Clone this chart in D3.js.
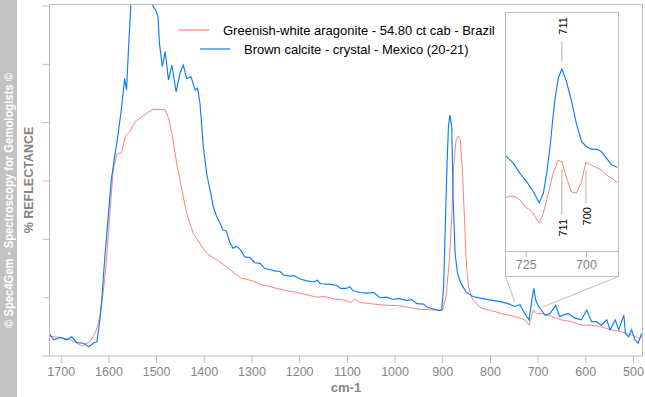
<!DOCTYPE html>
<html>
<head>
<meta charset="utf-8">
<script src="https://cdn.jsdelivr.net/npm/d3@7"></script>
<style>
  body { margin: 0; background: white; }
  text { font-family: "Liberation Sans", Arial, sans-serif; }
</style>
</head>
<body>
<div id="canvas"></div>
<script>
"use strict"

/* spectra: wavenumber (cm-1) and reflectance (arbitrary units) */
let aragoniteCm = [1724, 1701, 1680, 1666, 1656, 1645, 1639, 1632, 1625, 1618, 1611, 1604, 1597, 1590, 1583, 1572, 1565, 1555, 1544, 1534, 1520, 1506, 1492, 1481, 1474, 1467, 1457, 1446, 1436, 1422, 1408, 1394, 1373, 1352, 1331, 1321, 1310, 1296, 1282, 1265, 1247, 1226, 1205, 1184, 1163, 1146, 1128, 1107, 1092, 1083, 1073, 1052, 1031, 1010, 989, 968, 945, 910, 899, 892, 885, 880, 876, 871, 866, 862, 857, 853, 850, 845, 836, 818, 797, 776, 748, 727, 718, 709, 702, 692, 671, 650, 629, 608, 587, 566, 545, 524, 503, 485, 478];
let aragoniteR = [3.3, 3.1, 2.7, 2.1, 1.6, 2.1, 2.4, 3.2, 4.4, 6.7, 10.7, 16.4, 24.4, 31.8, 34.4, 34.9, 37.5, 38.4, 40.1, 40.7, 41.5, 42.2, 42.2, 42.1, 40.7, 38.1, 33.0, 28.4, 24.4, 20.9, 19.2, 17.5, 16.4, 15.2, 13.8, 13.2, 13.1, 12.7, 12.2, 11.9, 11.5, 11.1, 10.8, 10.4, 10.0, 10.1, 9.7, 9.5, 9.1, 9.7, 9.1, 8.9, 8.7, 8.6, 8.5, 8.2, 7.9, 7.8, 7.9, 10.1, 16.4, 23.8, 32.4, 36.9, 37.6, 36.9, 30.7, 22.7, 16.4, 11.8, 9.5, 8.1, 7.7, 7.2, 6.7, 6.1, 5.2, 7.8, 7.2, 7.2, 6.7, 6.1, 5.8, 5.2, 5.2, 4.9, 4.4, 4.1, 3.5, 2.9, 3.8];

let calciteCm = [1724, 1715, 1701, 1687, 1677, 1666, 1652, 1641, 1632, 1624, 1618, 1614, 1608, 1601, 1594, 1587, 1580, 1573, 1566, 1562, 1558, 1553, 1540, 1525, 1515, 1506, 1501, 1496, 1493, 1487, 1481, 1474, 1467, 1458, 1450, 1443, 1436, 1427, 1418, 1413, 1408, 1401, 1394, 1387, 1380, 1373, 1366, 1360, 1353, 1346, 1339, 1331, 1323, 1314, 1303, 1293, 1282, 1272, 1261, 1251, 1240, 1233, 1219, 1211, 1198, 1184, 1170, 1162, 1155, 1135, 1121, 1113, 1101, 1094, 1087, 1073, 1059, 1043, 1031, 1017, 1003, 992, 974, 964, 953, 939, 932, 924, 906, 901, 897, 894, 890, 887, 884, 880, 877, 873, 868, 861, 850, 836, 818, 797, 776, 762, 748, 737, 727, 718, 712, 708, 704, 698, 684, 674, 662, 654, 636, 622, 608, 597, 587, 577, 566, 555, 548, 537, 530, 519, 516, 509, 503, 496, 489, 482];
let calciteR = [3.8, 2.7, 3.1, 2.7, 3.2, 2.2, 2.1, 1.5, 2.1, 2.4, 6.1, 9.5, 16.4, 23.2, 30.1, 34.1, 37.8, 42.1, 47.5, 45.5, 52.4, 60.1, 64.0, 66.0, 63.0, 59.8, 59.2, 58.1, 53.5, 49.5, 52.1, 47.2, 49.8, 45.2, 48.4, 49.8, 47.5, 47.8, 45.5, 45.8, 43.2, 35.8, 31.2, 28.4, 25.5, 23.8, 22.7, 21.5, 21.4, 19.5, 18.4, 18.7, 18.1, 16.9, 16.8, 15.9, 15.8, 14.9, 14.7, 14.5, 14.4, 13.8, 13.6, 13.7, 13.1, 12.8, 12.6, 12.9, 12.3, 12.2, 12.0, 11.5, 11.5, 11.8, 11.1, 10.8, 10.7, 10.8, 9.9, 10.0, 9.6, 9.8, 9.4, 9.6, 8.9, 8.8, 8.3, 8.1, 7.7, 7.8, 11.8, 20.9, 32.4, 39.2, 41.2, 39.2, 26.7, 17.5, 14.1, 12.4, 10.9, 10.1, 9.8, 9.5, 9.2, 8.9, 8.4, 8.7, 7.2, 6.1, 9.5, 11.5, 9.5, 8.4, 6.9, 7.2, 8.6, 6.7, 7.2, 6.4, 6.1, 7.8, 5.8, 5.8, 5.2, 6.1, 4.4, 6.1, 4.4, 6.9, 3.8, 3.2, 4.4, 2.7, 2.1, 3.8];

/* inset (zoom on the 711 band) */
let insetCm = [733.5, 730.1, 727.4, 724.6, 721.8, 719.4, 717.7, 716.3, 714.9, 713.8, 712.9, 711.5, 710.0, 708.2, 706.1, 704.0, 701.8, 699.7, 697.6, 695.6, 693.5, 691.4, 689.3, 687.0];
let insetCalciteR = [40.1, 36.7, 32.5, 29.0, 24.8, 20.2, 24.2, 32.5, 43.7, 54.9, 63.3, 72.4, 76.2, 71.4, 63.3, 53.5, 45.8, 43.7, 42.6, 42.7, 41.6, 38.8, 36.0, 35.1];
let insetAragCm = [733.5, 731.5, 729.4, 727.4, 725.3, 722.5, 721.1, 719.4, 717.7, 715.6, 713.6, 711.5, 710.0, 708.2, 706.1, 704.0, 701.8, 700.1, 697.6, 695.6, 693.5, 691.4, 689.3, 687.0];
let insetAragR = [22.3, 23.0, 22.7, 21.4, 18.6, 16.5, 14.4, 11.6, 15.8, 24.2, 32.6, 38.1, 37.4, 31.1, 24.8, 24.2, 29.0, 37.2, 36.0, 34.9, 33.9, 31.8, 30.5, 28.6];

/* labels */
let xTicks = [1700, 1600, 1500, 1400, 1300, 1200, 1100, 1000, 900, 800, 700, 600, 500];
let yTicks = [0, 10, 20, 30, 40, 50, 60];
let insetTicks = [725, 700];
let legendNames = ["Greenish-white aragonite - 54.80 ct cab - Brazil", "Brown calcite - crystal - Mexico (20-21)"];
let colors = ["#ff7f7f", "#0a7cff"];
/* peak labels: leader line from "top" to "bottom" (inset units) */
let peakLabels = [
  { cm: 710, top: 87.7, bottom: 79.3, text: "711", above: true },
  { cm: 710, top: 34.4, bottom: 15.1, text: "711", above: false },
  { cm: 700, top: 33.9, bottom: 20.1, text: "700", above: false }
];
/* where the inset comes from on the main plot */
let zoomFrom = [{ cm: 748, r: 9.2 }, { cm: 690, r: 8.3 }];

let drawing = d3.select("#canvas")
  .append("svg")
  .attr("width", 645)
  .attr("height", 397);

let frameColor = "#bcbcbc";
let textGray = "#858585";

/* scales */
let x = d3.scaleLinear().domain([1724, 480]).range([49.3, 642.5]);
let y = d3.scaleLinear().domain([0, 60]).range([355.5, 5.5]);
let xi = d3.scaleLinear().domain([733.4, 686.9]).range([505.5, 617.5]);
let yi = d3.scaleLinear().domain([0, 100]).range([251, 12.3]);

/* grey side band with copyright */
drawing.append("rect")
  .attr("x", 0).attr("y", 0)
  .attr("width", 17).attr("height", 397)
  .attr("fill", "#c2c2c2");

drawing.append("text")
  .attr("transform", "translate(8.5,200.5) rotate(-90)")
  .attr("text-anchor", "middle")
  .attr("dominant-baseline", "central")
  .attr("fill", "white")
  .attr("font-weight", "bold")
  .attr("font-size", 12)
  .attr("textLength", 255)
  .attr("lengthAdjust", "spacingAndGlyphs")
  .text("© Spec4Gem - Spectroscopy for Gemologists ©");

/* y axis title */
drawing.append("text")
  .attr("transform", "translate(29,180) rotate(-90)")
  .attr("text-anchor", "middle")
  .attr("dominant-baseline", "central")
  .attr("fill", textGray)
  .attr("font-weight", "bold")
  .attr("font-size", 12.5)
  .text("% REFLECTANCE");

/* clip for main plot */
drawing.append("clipPath")
  .attr("id", "plotClip")
  .append("rect")
  .attr("x", 49.3).attr("y", 5)
  .attr("width", 593.2).attr("height", 351);

/* main curves */
let line = d3.line()
  .x(d => x(d[0]))
  .y(d => y(d[1]));

drawing.append("path")
  .datum(d3.zip(aragoniteCm, aragoniteR))
  .attr("d", line)
  .attr("fill", "none")
  .attr("stroke", colors[0])
  .attr("stroke-width", 1)
  .attr("clip-path", "url(#plotClip)");

drawing.append("path")
  .datum(d3.zip(calciteCm, calciteR))
  .attr("d", line)
  .attr("fill", "none")
  .attr("stroke", colors[1])
  .attr("stroke-width", 1.15)
  .attr("clip-path", "url(#plotClip)");

/* plot frame */
drawing.append("rect")
  .attr("x", 49.5).attr("y", 4.5)
  .attr("width", 593).attr("height", 351.5)
  .attr("fill", "none")
  .attr("stroke", frameColor);

/* x axis */
let xAxis = d3.axisBottom(x)
  .tickValues(xTicks)
  .tickFormat(d3.format("d"))
  .tickSize(7)
  .tickPadding(4);

let xAxisG = drawing.append("g")
  .attr("transform", "translate(0,356)")
  .call(xAxis);
xAxisG.select(".domain").remove();
xAxisG.selectAll("line").attr("stroke", frameColor);
xAxisG.selectAll("text")
  .attr("fill", textGray)
  .attr("font-size", 12.5)
  .attr("font-family", "Liberation Sans, Arial, sans-serif");

drawing.append("text")
  .attr("x", 346).attr("y", 392)
  .attr("text-anchor", "middle")
  .attr("fill", textGray)
  .attr("font-weight", "bold")
  .attr("font-size", 13)
  .text("cm-1");

/* y ticks, no labels */
let yAxis = d3.axisLeft(y)
  .tickValues(yTicks)
  .tickSize(7)
  .tickFormat("");

let yAxisG = drawing.append("g")
  .attr("transform", "translate(49.5,0)")
  .call(yAxis);
yAxisG.select(".domain").remove();
yAxisG.selectAll("line").attr("stroke", frameColor);

/* legend */
legendNames.forEach(function (name, i) {
  let ly = 30 + i * 19;
  let lx = 179 + i * 21;
  drawing.append("line")
    .attr("x1", lx).attr("y1", ly)
    .attr("x2", lx + 30).attr("y2", ly)
    .attr("stroke", colors[i])
    .attr("stroke-width", 1.2);
  drawing.append("text")
    .attr("x", lx + 44).attr("y", ly)
    .attr("dominant-baseline", "central")
    .attr("fill", "black")
    .attr("font-size", 13)
    .text(name);
});

/* connector lines from main plot to inset */
drawing.append("line")
  .attr("x1", x(zoomFrom[0].cm)).attr("y1", y(zoomFrom[0].r))
  .attr("x2", 505.5).attr("y2", 276.5)
  .attr("stroke", frameColor);
drawing.append("line")
  .attr("x1", x(zoomFrom[1].cm)).attr("y1", y(zoomFrom[1].r))
  .attr("x2", 618.5).attr("y2", 276.5)
  .attr("stroke", frameColor);

/* inset box */
drawing.append("rect")
  .attr("x", 505.5).attr("y", 12.5)
  .attr("width", 113).attr("height", 264)
  .attr("fill", "white")
  .attr("stroke", frameColor);

drawing.append("line")
  .attr("x1", 505.5).attr("y1", 251.5)
  .attr("x2", 618.5).attr("y2", 251.5)
  .attr("stroke", frameColor);

let insetAxis = d3.axisBottom(xi)
  .tickValues(insetTicks)
  .tickSize(6)
  .tickPadding(3);

let insetAxisG = drawing.append("g")
  .attr("transform", "translate(0,251.5)")
  .call(insetAxis);
insetAxisG.select(".domain").remove();
insetAxisG.selectAll("line").attr("stroke", frameColor);
insetAxisG.selectAll("text")
  .attr("fill", textGray)
  .attr("font-size", 12.5)
  .attr("font-family", "Liberation Sans, Arial, sans-serif");

drawing.append("clipPath")
  .attr("id", "insetClip")
  .append("rect")
  .attr("x", 506).attr("y", 13)
  .attr("width", 112).attr("height", 238);

let insetLine = d3.line()
  .x(d => xi(d[0]))
  .y(d => yi(d[1]));

drawing.append("path")
  .datum(d3.zip(insetAragCm, insetAragR))
  .attr("d", insetLine)
  .attr("fill", "none")
  .attr("stroke", colors[0])
  .attr("stroke-width", 1)
  .attr("clip-path", "url(#insetClip)");

drawing.append("path")
  .datum(d3.zip(insetCm, insetCalciteR))
  .attr("d", insetLine)
  .attr("fill", "none")
  .attr("stroke", colors[1])
  .attr("stroke-width", 1.15)
  .attr("clip-path", "url(#insetClip)");

/* peak labels in the inset */
peakLabels.forEach(function (p) {
  let px = xi(p.cm);
  drawing.append("line")
    .attr("x1", px).attr("y1", yi(p.top))
    .attr("x2", px).attr("y2", yi(p.bottom))
    .attr("stroke", "#b0b0b0");
  let ty = p.above ? yi(p.top) - 7 : yi(p.bottom) + 4;
  drawing.append("text")
    .attr("transform", "translate(" + (px + 1) + "," + ty + ") rotate(-90)")
    .attr("text-anchor", p.above ? "start" : "end")
    .attr("dominant-baseline", "central")
    .attr("fill", "black")
    .attr("font-size", 11)
    .text(p.text);
});
</script>
</body>
</html>
